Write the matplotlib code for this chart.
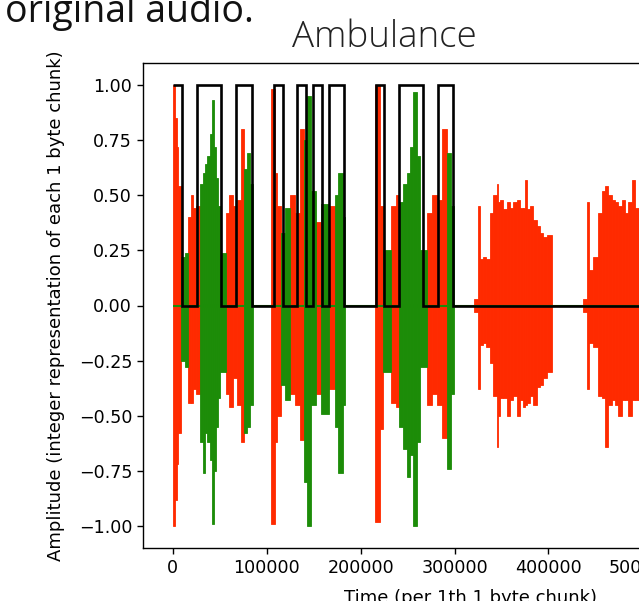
import matplotlib.pyplot as plt
import numpy as np

# square gate (black): step edges and the level between each pair of edges
gate_edges = [0, 9300, 25600, 51100, 67100, 84100, 107600, 117200, 132100, 141700,
              149100, 158700, 166100, 182100, 216200, 224700, 240700, 266300,
              282200, 298200, 635000]
gate_levels = [1, 0, 1, 0, 1, 0, 1, 0, 1, 0, 1, 0, 1, 0, 1, 0, 1, 0, 1, 0]

# waveform envelope: (start, end, top, bottom)
red_segments = [
    (700, 2500, 1.00, -1.00), (2500, 4300, 0.85, -0.88), (4300, 6000, 0.72, -0.72),
    (6000, 8200, 0.54, -0.58),
    (16300, 19200, 0.40, -0.44), (19200, 22000, 0.50, -0.44), (22000, 25200, 0.44, -0.38),
    (25200, 28800, 0.45, -0.40),
    (56400, 59600, 0.42, -0.40), (59600, 63900, 0.50, -0.46), (63900, 68200, 0.45, -0.33),
    (68200, 72400, 0.48, -0.45), (72400, 76100, 0.80, -0.62),
    (104700, 108300, 0.98, -0.99), (108300, 111100, 0.60, -0.62), (111100, 114700, 0.45, -0.50),
    (124300, 129600, 0.50, -0.40), (129600, 134900, 0.42, -0.45), (134900, 140200, 0.80, -0.61),
    (152600, 157300, 0.38, -0.40), (165800, 172200, 0.45, -0.38),
    (215100, 220500, 1.00, -0.98), (220500, 224000, 0.45, -0.56),
    (232200, 237200, 0.45, -0.44), (237200, 240700, 0.50, -0.46),
    (270200, 275500, 0.42, -0.45), (275500, 280800, 0.50, -0.40), (280800, 286800, 0.48, -0.45),
    (286800, 291500, 0.80, -0.60),
    (320900, 324500, 0.03, -0.03), (324500, 326900, 0.45, -0.38), (326900, 330500, 0.21, -0.18),
    (330500, 334000, 0.22, -0.17), (334000, 337600, 0.21, -0.19), (337600, 341200, 0.42, -0.26),
    (341200, 344700, 0.50, -0.41), (344700, 346500, 0.55, -0.64), (346500, 348300, 0.47, -0.50),
    (348300, 351800, 0.48, -0.42), (351800, 355400, 0.44, -0.42), (355400, 358900, 0.47, -0.50),
    (358900, 362500, 0.44, -0.43), (362500, 366000, 0.47, -0.41), (366000, 369600, 0.48, -0.50),
    (369600, 373200, 0.44, -0.43), (373200, 374900, 0.44, -0.46), (374900, 376700, 0.57, -0.45),
    (376700, 380300, 0.44, -0.44), (380300, 383800, 0.45, -0.41), (383800, 387400, 0.39, -0.45),
    (387400, 390900, 0.36, -0.37), (390900, 394500, 0.33, -0.36), (394500, 398000, 0.31, -0.33),
    (398000, 403400, 0.32, -0.30),
    (436300, 440500, 0.03, -0.03), (440500, 443400, 0.47, -0.38), (443400, 446900, 0.16, -0.17),
    (446900, 452800, 0.22, -0.19), (452800, 456500, 0.42, -0.41), (456500, 460100, 0.52, -0.42),
    (460100, 463600, 0.54, -0.64), (463600, 467200, 0.50, -0.45), (467200, 470700, 0.48, -0.43),
    (470700, 474300, 0.47, -0.45), (474300, 477800, 0.45, -0.50), (477800, 481400, 0.48, -0.43),
    (481400, 484900, 0.42, -0.43), (484900, 488500, 0.47, -0.50), (488500, 492100, 0.57, -0.43),
    (492100, 496300, 0.44, -0.43), (496300, 503000, 0.45, -0.41), (503000, 510000, 0.38, -0.44),
    (510000, 519000, 0.32, -0.31),
]

green_segments = [
    (8200, 12800, 0.22, -0.25), (12800, 16300, 0.24, -0.28),
    (28800, 32000, 0.55, -0.62), (32000, 34100, 0.60, -0.76), (34100, 36200, 0.64, -0.58),
    (36200, 39400, 0.68, -0.62), (39400, 41500, 0.78, -0.70), (41500, 43700, 0.93, -0.99),
    (43700, 45800, 0.72, -0.75), (45800, 47900, 0.58, -0.55), (47900, 50100, 0.45, -0.42),
    (50100, 56400, 0.24, -0.30),
    (76100, 78800, 0.62, -0.58), (78800, 82000, 0.69, -0.55), (82000, 85200, 0.55, -0.45),
    (114700, 119500, 0.33, -0.36), (119500, 124300, 0.44, -0.43),
    (140200, 143000, 0.75, -0.80), (143000, 147300, 0.95, -1.00), (147300, 152600, 0.52, -0.45),
    (157300, 165800, 0.46, -0.49),
    (172200, 175700, 0.50, -0.55), (175700, 181100, 0.60, -0.76), (181100, 183500, 0.40, -0.45),
    (224000, 232200, 0.25, -0.30),
    (240700, 245300, 0.47, -0.55), (245300, 248900, 0.55, -0.65), (248900, 252400, 0.60, -0.78),
    (252400, 256000, 0.72, -0.68), (256000, 259500, 0.97, -1.00), (259500, 263100, 0.68, -0.62),
    (263100, 270200, 0.25, -0.28),
    (291500, 296100, 0.69, -0.74), (296100, 299600, 0.45, -0.40),
]

RED = "#ff2a00"
GREEN = "#1c8c08"


def draw_wave(ax, segments, color, z):
    seg = np.array(segments)
    ax.bar(seg[:, 0], seg[:, 2] - seg[:, 3], width=seg[:, 1] - seg[:, 0],
           bottom=seg[:, 3], align="edge", color=color, edgecolor=color,
           linewidth=0.6, zorder=z)


plt.rcParams["font.size"] = 13
fig = plt.figure(figsize=(6.39, 6.01), dpi=100)
ax = fig.add_axes([143 / 639, 53 / 601, 656 / 639, 485 / 601])

draw_wave(ax, red_segments, RED, 2)
draw_wave(ax, green_segments, GREEN, 3)
ax.hlines(0, gate_edges[0], gate_edges[-1], color=GREEN, linewidth=1.5, zorder=3)
ax.stairs(gate_levels, gate_edges, baseline=None, color="black", linewidth=1.9, zorder=4)

ax.set_xlim(-0.05 * gate_edges[-1], 1.05 * gate_edges[-1])
ax.set_ylim(-1.1, 1.1)
ax.set_yticks([1.0, 0.75, 0.5, 0.25, 0.0, -0.25, -0.5, -0.75, -1.0])
ax.tick_params(length=4.3, width=1.0, labelsize=12.6)
for s in ax.spines.values():
    s.set_linewidth(1.0)

ax.set_xlabel("Time (per 1th 1 byte chunk)", labelpad=9)
ax.set_ylabel("Amplitude (integer representation of each 1 byte chunk)")
ax.yaxis.set_label_coords(-0.119, 0.5)

fig.text(384 / 639, 1 - 47 / 601, "Ambulance", family="Open Sans", weight="light",
         fontsize=26.5, ha="center", va="baseline", color="#222222")
fig.text(5 / 639, 1 - 22 / 601, "original audio.", family="Open Sans",
         fontsize=27, ha="left", va="baseline", color="#111111")

fig.savefig("out.png", dpi=100)
plt.close()
